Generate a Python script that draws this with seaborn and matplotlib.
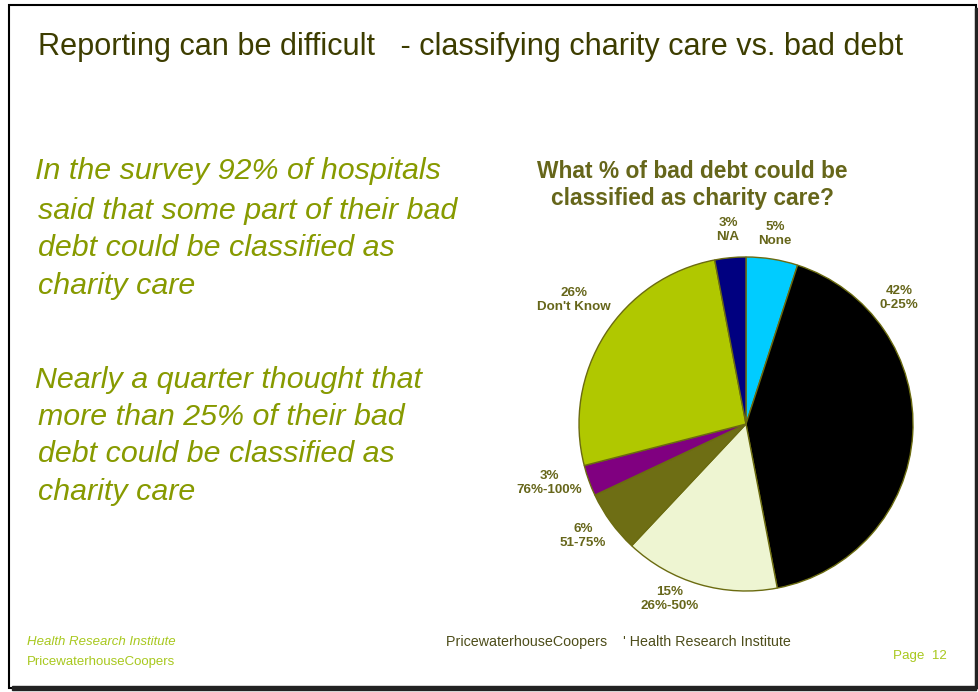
import matplotlib
matplotlib.use("Agg")
import matplotlib.pyplot as plt
import seaborn as sns
from matplotlib.patches import Rectangle

sns.set_theme(style="white")
plt.rcParams['font.family'] = ['Liberation Sans', 'DejaVu Sans']

# ---- data ----
categories = ["None", "0-25%", "26%-50%", "51-75%", "76%-100%", "Don't Know", "N/A"]
values = [5, 42, 15, 6, 3, 26, 3]
colors = ["#00CCFF", "#000000", "#EEF5D2", "#6E6E14", "#800080", "#B0C800", "#000080"]
pct_labels = ["5%", "42%", "15%", "6%", "3%", "26%", "3%"]

title = "Reporting can be difficult   - classifying charity care vs. bad debt"
chart_title = "What % of bad debt could be\nclassified as charity care?"
para1 = ["In the survey 92% of hospitals", "said that some part of their bad",
         "debt could be classified as", "charity care"]
para2 = ["Nearly a quarter thought that", "more than 25% of their bad",
         "debt could be classified as", "charity care"]

W, H = 979, 692
fig = plt.figure(figsize=(W / 100, H / 100), dpi=100)
fig.patch.set_facecolor("white")

def fx(px):
    return px / W

def fy(py):
    return 1 - py / H

# frame with shadow
fig.patches.append(Rectangle((fx(9), fy(688)), fx(976) - fx(9), fy(5) - fy(688),
                             transform=fig.transFigure, fill=False,
                             edgecolor="black", linewidth=1.5))
fig.patches.append(Rectangle((fx(975), fy(688)), fx(3), fy(8) - fy(688),
                             transform=fig.transFigure, color="#222222"))
fig.patches.append(Rectangle((fx(12), fy(690)), fx(976) - fx(12), fy(686) - fy(690),
                             transform=fig.transFigure, color="#222222"))

# main title
fig.text(fx(38), fy(47), title, fontsize=22.1, color="#3D3D00", va="center", ha="left")

# left paragraphs
green = "#879A00"
ys1 = [171, 211, 248, 286]
xs1 = [35, 38, 38, 38]
for t, x, y in zip(para1, xs1, ys1):
    fig.text(fx(x), fy(y), t, fontsize=21.9, style="italic", color=green, va="center", ha="left")
ys2 = [380, 417, 454, 492]
xs2 = [35, 38, 38, 38]
for t, x, y in zip(para2, xs2, ys2):
    fig.text(fx(x), fy(y), t, fontsize=21.9, style="italic", color=green, va="center", ha="left")

# chart title
olive = "#66661A"
fig.text(fx(692), fy(185), chart_title, fontsize=16.4, fontweight="bold", color=olive,
         ha="center", va="center", linespacing=1.2)

# pie
cx, cy, r = 746, 424, 167
ax = fig.add_axes([fx(cx - r), fy(cy + r), (2 * r) / W, (2 * r) / H])
wedges, _ = ax.pie(values, colors=colors, startangle=90, counterclock=False,
                   wedgeprops=dict(edgecolor="#6B6B10", linewidth=1.0))
ax.set_xlim(-1, 1)
ax.set_ylim(-1, 1)
ax.set_aspect("equal")
ax.axis("off")

# label positions in pixels (text anchors)
label_px = [(775, 234), (899, 298), (670, 599), (583, 536), (549, 483), (574, 300), (728, 230)]
for (px, py), p, c in zip(label_px, pct_labels, categories):
    ax.text((px - cx) / r, (cy - py) / r, f"{p}\n{c}", fontsize=9.6, fontweight="bold",
            color=olive, ha="center", va="center", linespacing=1.3, clip_on=False)

# footer
lgreen = "#A8C81E"
fig.text(fx(27), fy(642), "Health Research Institute", fontsize=9.5, style="italic",
         color=lgreen, va="center", ha="left")
fig.text(fx(27), fy(662), "PricewaterhouseCoopers", fontsize=9.5,
         color=lgreen, va="center", ha="left")
fig.text(fx(446), fy(642), "PricewaterhouseCoopers    ' Health Research Institute",
         fontsize=10.3, color="#4D4D1A", va="center", ha="left")
fig.text(fx(893), fy(656), "Page  12", fontsize=9.6, color=lgreen, va="center", ha="left")

fig.savefig("out.png", dpi=100, facecolor="white")
